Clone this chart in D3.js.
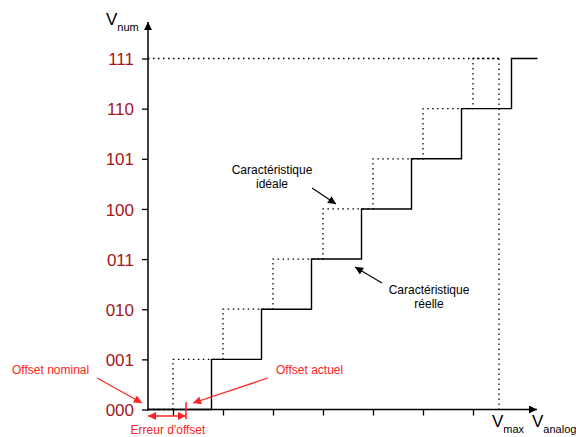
<!DOCTYPE html>
<html><head><meta charset="utf-8">
<script src="https://cdn.jsdelivr.net/npm/d3@7"></script>
<style>body{margin:0;background:#fff}svg{display:block;font-family:Arial,"Liberation Sans",sans-serif}</style>
</head><body>
<svg id="c" width="576" height="437"></svg>
<script>
// ---- data ----
const codes = ["000","001","010","011","100","101","110","111"];
const idealTransitions = [0.5,1.5,2.5,3.5,4.5,5.5,6.5];      // in LSB
const realTransitions  = [1.27,2.27,3.27,4.27,5.27,6.27,7.27]; // in LSB
const xTicks = [0.5,1.5,2.5,3.5,4.5,5.5,6.5];
const vMax = 7.02;
const realEnd = 7.79;
const offsetActual = 0.76;

const svg = d3.select("#c");
const x = d3.scaleLinear().domain([0,8]).range([148,548]);
const y = d3.scaleLinear().domain([0,7]).range([409.5,58.5]);
const red = "#f22", dark = "#a3171b";

function stepPoints(trans, endX){
  const pts=[[0,0]];
  trans.forEach((t,i)=>{pts.push([t,i]);pts.push([t,i+1]);});
  pts.push([endX,trans.length]);
  return pts;
}
const line = d3.line().x(d=>x(d[0])).y(d=>y(d[1]));

// defs
const defs = svg.append("defs");
function marker(id,color,w,h){
  defs.append("marker").attr("id",id).attr("viewBox","0 0 10 10").attr("refX",10).attr("refY",5)
   .attr("markerWidth",w).attr("markerHeight",h).attr("markerUnits","userSpaceOnUse").attr("orient","auto-start-reverse")
   .append("path").attr("d","M0,0L10,5L0,10Z").attr("fill",color);
}
marker("ab","#000",10,8);
marker("ar",red,10,8);

// dotted reference lines
svg.append("line").attr("x1",x(0)).attr("x2",x(vMax)).attr("y1",y(7)).attr("y2",y(7))
  .attr("stroke","#000").attr("stroke-width",1.3).attr("stroke-dasharray","1.5,3.5");
svg.append("line").attr("x1",x(vMax)).attr("x2",x(vMax)).attr("y1",y(7)).attr("y2",y(0))
  .attr("stroke","#000").attr("stroke-width",1.3).attr("stroke-dasharray","1.5,3.5");

// ideal characteristic
svg.append("path").datum(stepPoints(idealTransitions,vMax)).attr("d",line)
  .attr("fill","none").attr("stroke","#000").attr("stroke-width",1.3).attr("stroke-dasharray","1.5,3.5");
// real characteristic
svg.append("path").datum(stepPoints(realTransitions,realEnd)).attr("d",line)
  .attr("fill","none").attr("stroke","#000").attr("stroke-width",1.4);

// axes
const xAxis = d3.axisBottom(x).tickValues(xTicks).tickSize(6).tickFormat("");
const gx = svg.append("g").attr("transform",`translate(0,${y(0)})`).call(xAxis);
gx.select(".domain").remove();
gx.selectAll("line").attr("stroke","#000").attr("stroke-width",1.3);
const yAxis = d3.axisLeft(y).tickValues(d3.range(codes.length)).tickSize(6).tickFormat(i=>codes[i]).tickPadding(8);
const gy = svg.append("g").attr("transform",`translate(${x(0)},0)`).call(yAxis);
gy.select(".domain").remove();
gy.selectAll("line").attr("stroke","#000").attr("stroke-width",1.3);
gy.selectAll("text").attr("fill",dark).attr("font-size",17).attr("font-family","Arial,'Liberation Sans',sans-serif").attr("dy","0.36em");

svg.append("line").attr("x1",x(0)).attr("x2",x(0)).attr("y1",y(0)+1).attr("y2",22)
  .attr("stroke","#000").attr("stroke-width",1.5).attr("marker-end","url(#ab)");
svg.append("line").attr("x1",x(0)-1).attr("x2",537).attr("y1",y(0)).attr("y2",y(0))
  .attr("stroke","#000").attr("stroke-width",1.5).attr("marker-end","url(#ab)");

// axis titles
function vlabel(xp,yp,sub){
  const t=svg.append("text").attr("x",xp).attr("y",yp).attr("font-size",17).attr("fill","#000");
  t.append("tspan").text("V");
  t.append("tspan").attr("font-size",11).attr("dy",6).text(sub);
}
vlabel(106,25,"num");
vlabel(492,427,"max");
vlabel(532,427,"analog");

// black annotations
function multi(xp,yp,lines,color){
  const t=svg.append("text").attr("x",xp).attr("y",yp).attr("font-size",12).attr("fill",color).attr("text-anchor","middle");
  lines.forEach((l,i)=>t.append("tspan").attr("x",xp).attr("dy",i?14:0).text(l));
}
multi(272,174,["Caractéristique","idéale"],"#000");
svg.append("line").attr("x1",312).attr("y1",188).attr("x2",336).attr("y2",204)
  .attr("stroke","#000").attr("stroke-width",1.2).attr("marker-end","url(#ab)");
multi(429,294,["Caractéristique","réelle"],"#000");
svg.append("line").attr("x1",382).attr("y1",283).attr("x2",355).attr("y2",267)
  .attr("stroke","#000").attr("stroke-width",1.2).attr("marker-end","url(#ab)");

// red annotations
svg.append("text").attr("x",12).attr("y",374).attr("font-size",12).attr("fill",red).text("Offset nominal");
svg.append("line").attr("x1",97).attr("y1",378).attr("x2",142).attr("y2",403)
  .attr("stroke",red).attr("stroke-width",1.2).attr("marker-end","url(#ar)");
svg.append("text").attr("x",276).attr("y",374).attr("font-size",12).attr("fill",red).text("Offset actuel");
svg.append("line").attr("x1",268).attr("y1",378).attr("x2",193).attr("y2",403)
  .attr("stroke",red).attr("stroke-width",1.2).attr("marker-end","url(#ar)");
svg.append("line").attr("x1",x(offsetActual)).attr("x2",x(offsetActual)).attr("y1",402).attr("y2",419)
  .attr("stroke",red).attr("stroke-width",1.5);
svg.append("line").attr("x1",x(0)).attr("x2",x(offsetActual)).attr("y1",416).attr("y2",416)
  .attr("stroke",red).attr("stroke-width",1.3).attr("marker-start","url(#ar)").attr("marker-end","url(#ar)");
svg.append("text").attr("x",168).attr("y",434).attr("font-size",12).attr("fill",red).attr("text-anchor","middle").text("Erreur d'offset");
</script>
</body></html>
